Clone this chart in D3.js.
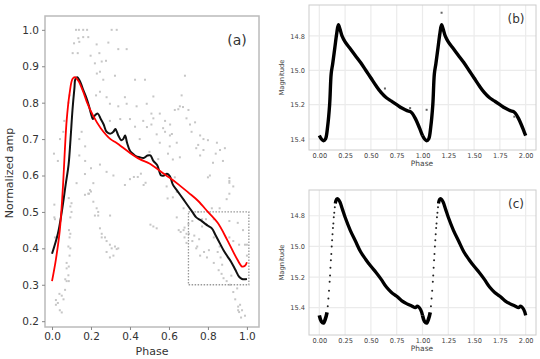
<!DOCTYPE html>
<html><head><meta charset="utf-8">
<script src="https://cdn.jsdelivr.net/npm/d3@7"></script>
<style>body{margin:0;background:#fff}svg{display:block}text{font-family:"DejaVu Sans",sans-serif}</style>
</head><body><svg id="c" width="540" height="359"></svg>
<script>
// ---------- DATA ----------
const ampTicks = [0.2,0.3,0.4,0.5,0.6,0.7,0.8,0.9,1.0];
const phaseTicksA = [0.0,0.2,0.4,0.6,0.8,1.0];
const phaseTicksBC = [0,0.25,0.5,0.75,1.0,1.25,1.5,1.75,2.0];
const magTicks = [14.8,15.0,15.2,15.4];
const cycles = [0,1];

const scatterPts = [
[0.123,1.0],[0.138,1.0],[0.16,1.0],[0.18,1.0],[0.306,1.0],[0.332,1.0],
[0.135,0.977],[0.16,0.98],[0.186,0.98],[0.113,0.963],[0.14,0.967],[0.229,0.96],[0.289,0.965],[0.34,0.947],[0.383,0.947],
[0.106,0.936],[0.132,0.936],[0.198,0.929],[0.243,0.936],[0.22,0.908],[0.255,0.913],[0.277,0.915],
[0.246,0.885],[0.23,0.88],[0.263,0.863],[0.323,0.874],[0.426,0.863],[0.477,0.863],[0.682,0.874],
[0.52,0.817],[0.665,0.82],[0.246,0.83],[0.226,0.82],[0.28,0.815],[0.34,0.79],[0.374,0.815],[0.383,0.797],[0.297,0.797],[0.434,0.79],[0.486,0.797],
[0.51,0.77],[0.63,0.78],[0.656,0.79],[0.672,0.788],[0.553,0.77],[0.648,0.782],[0.7,0.78],[0.69,0.757],
[0.468,0.75],[0.426,0.734],[0.4,0.755],[0.51,0.74],[0.58,0.75],[0.606,0.74],[0.35,0.755],[0.297,0.75],[0.52,0.757],
[0.537,0.713],[0.58,0.72],[0.615,0.714],[0.64,0.69],[0.708,0.74],[0.734,0.746],[0.76,0.71],[0.777,0.70],[0.8,0.697],[0.846,0.69],[0.862,0.67],[0.777,0.67],[0.887,0.675],
[0.487,0.733],[0.57,0.73],[0.716,0.72],[0.605,0.71],[0.45,0.70],[0.553,0.69],[0.604,0.68],[0.75,0.684],[0.74,0.675],[0.84,0.66],[0.76,0.655],[0.877,0.64],[0.826,0.635],[0.595,0.66],[0.5,0.665],[0.545,0.645],
[0.62,0.644],[0.656,0.65],[0.8,0.595],[0.91,0.585],[0.63,0.595],[0.81,0.60],[0.91,0.593],[0.91,0.58],
[0.152,0.72],[0.14,0.70],[0.17,0.68],[0.14,0.655],[0.17,0.64],[0.2,0.62],[0.246,0.63],[0.28,0.61],[0.315,0.60],
[0.041,0.70],[0.058,0.72],[0.03,0.64],[0.01,0.66],[0.084,0.80],[0.09,0.82],[0.063,0.75],
[0.169,0.604],[0.212,0.579],[0.195,0.56],[0.19,0.55],[0.2,0.556],[0.212,0.528],[0.229,0.51],[0.237,0.50],[0.22,0.49],[0.237,0.49],[0.246,0.455],[0.255,0.44],[0.255,0.43],[0.272,0.43],[0.28,0.42],[0.297,0.41],[0.306,0.40],[0.323,0.405],[0.332,0.398],[0.297,0.375],[0.28,0.39],[0.315,0.38],[0.34,0.40],[0.298,0.49],[0.169,0.547],[0.186,0.55],
[0.126,0.579],[0.1,0.524],[0.086,0.538],[0.094,0.515],[0.1,0.50],[0.094,0.485],[0.094,0.44],[0.094,0.40],[0.086,0.35],[0.086,0.31],[0.068,0.315],[0.012,0.52],[0.012,0.485],
[0.015,0.43],[0.015,0.48],[0.05,0.27],[0.059,0.26],[0.02,0.245],[0.04,0.23],[0.05,0.224],[0.02,0.258],[0.03,0.25],[0.038,0.275],[0.067,0.286],[0.075,0.31],[0.084,0.326],[0.075,0.345],[0.075,0.36],[0.09,0.38],[0.084,0.405],[0.09,0.43],[0.087,0.45],
[0.374,0.574],[0.4,0.59],[0.42,0.596],[0.44,0.596],[0.48,0.58],[0.456,0.605],[0.47,0.574],[0.52,0.46],[0.537,0.455],[0.505,0.465],[0.588,0.57],[0.62,0.54],[0.64,0.555],[0.593,0.537],
[0.68,0.457],[0.7,0.467],[0.65,0.45],[0.68,0.43],[0.69,0.44],[0.72,0.42],[0.745,0.405],[0.76,0.38],[0.83,0.36],[0.855,0.34],[0.87,0.33],[0.88,0.318],[0.896,0.31],[0.913,0.30],[0.93,0.28],[0.94,0.26],[0.955,0.24],[0.96,0.225],[0.97,0.21],[0.99,0.215],[0.955,0.23],
[0.77,0.46],[0.79,0.48],[0.86,0.51],[0.91,0.55],[0.93,0.57],[0.83,0.43],[0.96,0.41],[1.0,0.38],[0.93,0.42],[0.896,0.535],[0.805,0.395],[0.86,0.405],[0.98,0.45],[0.99,0.41],
[0.675,0.45],[0.66,0.445],[0.703,0.44],[0.73,0.435],[0.755,0.425],[0.69,0.415],[0.74,0.40],[0.78,0.39],[0.795,0.375],[0.85,0.39],[0.865,0.375],[0.873,0.355],[0.92,0.325],[0.95,0.29],[0.965,0.245],[0.975,0.23],[0.83,0.48],[0.953,0.47],[1.0,0.41],[0.91,0.43],[0.64,0.485],[0.675,0.51],[0.72,0.475],[0.75,0.50],[0.91,0.475],[0.77,0.48],[0.82,0.51]
];

const blackLine = [
[0.0,0.385],[0.03,0.44],[0.05,0.50],[0.07,0.575],[0.085,0.63],[0.095,0.70],[0.105,0.78],[0.115,0.84],[0.12,0.865],[0.13,0.87],[0.14,0.862],[0.15,0.85],[0.16,0.835],[0.175,0.815],[0.19,0.79],[0.2,0.77],[0.21,0.755],[0.22,0.765],[0.235,0.77],[0.25,0.755],[0.265,0.74],[0.28,0.72],[0.3,0.715],[0.315,0.72],[0.325,0.728],[0.34,0.71],[0.355,0.697],[0.365,0.70],[0.375,0.71],[0.385,0.69],[0.4,0.668],[0.415,0.66],[0.43,0.653],[0.45,0.65],[0.47,0.648],[0.49,0.655],[0.505,0.655],[0.52,0.64],[0.54,0.628],[0.56,0.60],[0.575,0.60],[0.59,0.605],[0.605,0.598],[0.62,0.575],[0.64,0.56],[0.66,0.545],[0.68,0.53],[0.7,0.515],[0.72,0.50],[0.74,0.485],[0.76,0.478],[0.78,0.47],[0.8,0.462],[0.82,0.455],[0.84,0.435],[0.86,0.415],[0.88,0.395],[0.9,0.378],[0.92,0.362],[0.94,0.342],[0.96,0.322],[0.975,0.316],[1.0,0.316]
];
const redLine = [
[0.0,0.31],[0.02,0.37],[0.04,0.45],[0.055,0.56],[0.075,0.75],[0.09,0.825],[0.105,0.865],[0.118,0.87],[0.135,0.86],[0.16,0.83],[0.18,0.80],[0.21,0.765],[0.25,0.73],[0.3,0.70],[0.33,0.69],[0.4,0.662],[0.45,0.645],[0.5,0.633],[0.57,0.606],[0.6,0.595],[0.65,0.575],[0.7,0.553],[0.75,0.53],[0.8,0.50],[0.85,0.47],[0.9,0.422],[0.95,0.37],[0.975,0.35],[0.99,0.352],[1.0,0.362]
];
const zoomBox = {x0:0.7, x1:1.01, y0:0.3, y1:0.5};

// panel (b) light curve (one cycle, plotted twice)
const curveB = [
[0.0,15.38],[0.02,15.40],[0.04,15.41],[0.06,15.40],[0.08,15.33],[0.10,15.20],[0.115,15.02],[0.13,14.96],[0.15,14.87],[0.17,14.78],[0.185,14.735],[0.20,14.76],[0.22,14.80],[0.25,14.835],[0.30,14.875],[0.35,14.915],[0.40,14.955],[0.45,15.00],[0.50,15.045],[0.55,15.09],[0.60,15.13],[0.65,15.16],[0.70,15.18],[0.75,15.20],[0.80,15.22],[0.85,15.235],[0.88,15.24],[0.90,15.25],[0.93,15.28],[0.96,15.32],[0.98,15.35],[1.0,15.38]
];
const outliersB = [[1.185,14.665],[1.04,15.23],[0.636,15.106],[0.88,15.22],[1.89,15.27]];

// panel (c) light curve: dense branches and sparse rising branch
const curveCLow = [[0.0,15.45],[0.02,15.49],[0.04,15.50],[0.06,15.47],[0.075,15.43]];
const curveCRise = [[0.082,15.39],[0.088,15.34],[0.094,15.29],[0.1,15.23],[0.104,15.19],[0.108,15.14],[0.112,15.09],[0.116,15.05],[0.12,15.0],[0.124,14.96],[0.128,14.92],[0.132,14.88],[0.136,14.85],[0.14,14.81],[0.145,14.78],[0.15,14.745]];
const curveCHigh = [[0.155,14.72],[0.162,14.70],[0.17,14.69],[0.18,14.69],[0.2,14.71],[0.225,14.76],[0.25,14.81],[0.3,14.895],[0.35,14.965],[0.4,15.035],[0.45,15.085],[0.5,15.13],[0.55,15.17],[0.6,15.215],[0.65,15.265],[0.7,15.30],[0.75,15.325],[0.8,15.355],[0.85,15.375],[0.9,15.39],[0.93,15.40],[0.95,15.39],[0.97,15.40],[0.99,15.425],[1.0,15.45]];

// ---------- DRAW ----------
const svg = d3.select("#c");
const TXT = "#333";

// Panel (a)
const xA = d3.scaleLinear().domain([-0.036,1.062]).range([45,259]);
const yA = d3.scaleLinear().domain([0.184,1.038]).range([327,16]);
const gA = svg.append("g");
gA.append("rect").attr("x",45).attr("y",16).attr("width",214).attr("height",311)
  .attr("fill","none").attr("stroke","#bbb").attr("stroke-width",1.5);
gA.append("g").selectAll("rect").data(scatterPts).join("rect")
  .attr("x",d=>xA(d[0])-1).attr("y",d=>yA(d[1])-1).attr("width",2).attr("height",2)
  .attr("fill","#c6c6c6");
gA.append("rect").attr("x",xA(zoomBox.x0)).attr("y",yA(zoomBox.y1))
  .attr("width",xA(zoomBox.x1)-xA(zoomBox.x0)).attr("height",yA(zoomBox.y0)-yA(zoomBox.y1))
  .attr("fill","none").attr("stroke","#999").attr("stroke-width",1.3).attr("stroke-dasharray","1.5,1.5");
const lineA = d3.line().x(d=>xA(d[0])).y(d=>yA(d[1])).curve(d3.curveCatmullRom);
gA.append("path").attr("d",lineA(blackLine)).attr("fill","none").attr("stroke","#111").attr("stroke-width",2);
gA.append("path").attr("d",lineA(redLine)).attr("fill","none").attr("stroke","#f00").attr("stroke-width",1.8);
const axLA = gA.append("g").attr("transform","translate(45,0)").call(d3.axisLeft(yA).tickValues(ampTicks).tickFormat(d3.format(".1f")).tickSize(3).tickPadding(3));
const axBA = gA.append("g").attr("transform","translate(0,327)").call(d3.axisBottom(xA).tickValues(phaseTicksA).tickFormat(d3.format(".1f")).tickSize(3).tickPadding(3));
[axLA,axBA].forEach(a=>{a.select(".domain").remove();a.selectAll("line").attr("stroke","#888");a.selectAll("text").attr("fill",TXT).style("font-size","10.5px");});
gA.append("text").attr("x",152).attr("y",355).attr("text-anchor","middle").attr("fill",TXT).style("font-size","11px").text("Phase");
gA.append("text").attr("transform","translate(13,173) rotate(-90)").attr("text-anchor","middle").attr("fill",TXT).style("font-size","11px").text("Normalized amp");
gA.append("text").attr("x",237).attr("y",45).attr("text-anchor","middle").attr("fill",TXT).style("font-size","14px").text("(a)");

// Panels (b),(c)
function lcPanel(top,bottom,yDom,label,drawFn){
  const x = d3.scaleLinear().domain([-0.1,2.1]).range([309,536]);
  const y = d3.scaleLinear().domain(yDom).range([top,bottom]);
  const g = svg.append("g");
  g.append("g").selectAll("line.gx").data(phaseTicksBC).join("line")
    .attr("x1",d=>x(d)).attr("x2",d=>x(d)).attr("y1",top).attr("y2",bottom).attr("stroke","#ebebeb").attr("stroke-width",1.2);
  g.append("g").selectAll("line.gy").data(magTicks).join("line")
    .attr("y1",d=>y(d)).attr("y2",d=>y(d)).attr("x1",309).attr("x2",536).attr("stroke","#ebebeb").attr("stroke-width",1.2);
  g.append("rect").attr("x",309).attr("y",top).attr("width",227).attr("height",bottom-top)
    .attr("fill","none").attr("stroke","#ccc").attr("stroke-width",1);
  drawFn(g,x,y);
  const al = g.append("g").attr("transform","translate(309,0)").call(d3.axisLeft(y).tickValues(magTicks).tickFormat(d3.format(".1f")).tickSize(0).tickPadding(4));
  const ab = g.append("g").attr("transform",`translate(0,${bottom})`).call(d3.axisBottom(x).tickValues(phaseTicksBC).tickFormat(d3.format(".2f")).tickSize(0).tickPadding(3));
  [al,ab].forEach(a=>{a.select(".domain").remove();a.selectAll("text").attr("fill","#444").style("font-size","6.6px");});
  g.append("text").attr("x",422).attr("y",bottom+16).attr("text-anchor","middle").attr("fill","#444").style("font-size","7.5px").text("Phase");
  g.append("text").attr("transform",`translate(284,${(top+bottom)/2}) rotate(-90)`).attr("text-anchor","middle").attr("fill","#444").style("font-size","6.8px").text("Magnitude");
  g.append("text").attr("x",516).attr("y",top+18).attr("text-anchor","middle").attr("fill","#333").style("font-size","12px").text(label);
}

lcPanel(5,150,[14.62,15.464],"(b)",(g,x,y)=>{
  cycles.forEach(c=>{
    const ln = d3.line().x(d=>x(d[0]+c)).y(d=>y(d[1])).curve(d3.curveCatmullRom);
    g.append("path").attr("d",ln(curveB)).attr("fill","none").attr("stroke","#000").attr("stroke-width",3.4).attr("stroke-linejoin","round");
  });
  g.selectAll("rect.o").data(outliersB).join("rect").attr("x",d=>x(d[0])-1).attr("y",d=>y(d[1])-1).attr("width",2).attr("height",2).attr("fill","#666");
});

lcPanel(190,335,[14.632,15.578],"(c)",(g,x,y)=>{
  cycles.forEach(c=>{
    const ln = d3.line().x(d=>x(d[0]+c)).y(d=>y(d[1])).curve(d3.curveCatmullRom);
    g.append("path").attr("d",ln(curveCLow)).attr("fill","none").attr("stroke","#000").attr("stroke-width",3.6).attr("stroke-linejoin","round");
    g.append("path").attr("d",ln(curveCHigh)).attr("fill","none").attr("stroke","#000").attr("stroke-width",3.3).attr("stroke-linejoin","round");
    g.append("g").selectAll("circle").data(curveCRise).join("circle")
      .attr("cx",d=>x(d[0]+c)).attr("cy",d=>y(d[1])).attr("r",1).attr("fill","#222");
  });
});
</script></body></html>
